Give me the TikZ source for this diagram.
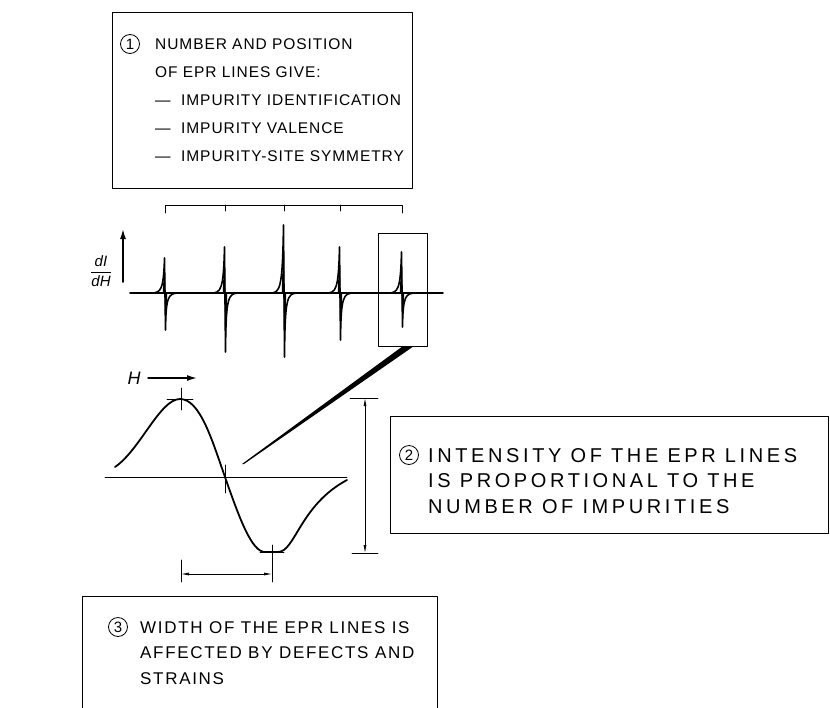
\documentclass[tikz,border=0pt]{standalone}
\usepackage{fontspec}
\setmainfont{Liberation Sans}
\usetikzlibrary{arrows.meta}

\begin{document}
\begin{tikzpicture}[x=1pt,y=-1pt,>=Latex,line cap=round,line join=round]

% Frame of the picture
\useasboundingbox (0,0) rectangle (830,707);

% Styles
\tikzset{
  infobox/.style={draw=black,line width=0.9pt},
  infotext/.style={anchor=north west,align=left,inner sep=0pt},
  numcirc/.style={circle,draw=black,line width=0.8pt,inner sep=0pt,minimum size=19pt,
    font=\fontsize{15}{15}\selectfont},
  axislabel/.style={font=\fontsize{17}{17}\selectfont\itshape,inner sep=1pt},
  trace/.style={line width=1.6pt},
  thin/.style={line width=0.6pt},
  dimline/.style={line width=0.7pt,{Latex[length=8pt,width=3pt]}-{Latex[length=8pt,width=3pt]}}
}

% Box 1
\draw[infobox] (112,12) rectangle (412,188);
\node[numcirc] (one) at (130,44) {1};
\node[infotext,font=\fontsize{15.5}{28}\selectfont\addfontfeatures{LetterSpace=6}] (txtone) at (155,38)
  {NUMBER AND POSITION\\OF EPR LINES GIVE:\\
  --- \ IMPURITY IDENTIFICATION\\--- \ IMPURITY VALENCE\\--- \ IMPURITY-SITE SYMMETRY};

% Bracket over the lines
\draw[thin] (165,213) -- (165,205) -- (402,205) -- (402,213);
\foreach \xx in {225,284,340} {
  \draw[thin] (\xx,205) -- (\xx,211);
}

% Axes of the spectrum
\draw[line width=1.5pt,-{Latex[length=10pt,width=6pt]}] (123,282) -- (123,229);
\node[axislabel,font=\fontsize{15}{15}\selectfont\itshape] (dIdH) at (101,271)
  {$\displaystyle\frac{\mbox{\itshape dI}}{\mbox{\itshape dH}}$};
\node[axislabel,font=\fontsize{18}{18}\selectfont\itshape] (hlabel) at (134,378) {H};
\draw[line width=1.5pt,-{Latex[length=10pt,width=6pt]}] (148,378) -- (197,378);

% Spectrum: baseline with five derivative lines
\draw[trace] (130,293) -- (443,293);
\foreach \xx/\up/\dn in {165/258/330,225/247/352,284/225/357,340/247/340,402/252/327} {
  \draw[trace] (\xx-14,293) .. controls (\xx-4,293) and (\xx-1.5,290) .. (\xx-0.5,\up)
    -- (\xx+0.5,\dn) .. controls (\xx+1,297) and (\xx+3,293) .. (\xx+14,293);
  \fill (\xx-2.2,292) -- (\xx-0.5,\up) -- (\xx+0.6,293) -- cycle;
  \fill (\xx-0.6,293) -- (\xx+0.5,\dn) -- (\xx+2.2,294) -- cycle;
}

% Zoom frame around last line and its wedge
\draw[thin] (378,233) rectangle (427,346);
\fill (403,346) -- (414,346) -- (244,464) -- (242,464) -- cycle;

% Enlarged line
\draw[thin] (105,477) -- (347,477);
\draw[line width=1.8pt] (115,467) .. controls (140,450) and (160,399) .. (180,399)
  .. controls (200,399) and (212,440) .. (225,477)
  .. controls (240,520) and (252,552) .. (265,552) -- (278,552)
  .. controls (295,552) and (300,505) .. (347,480);

% Tick marks on the enlarged line
\draw[thin] (167,399) -- (193,399) (181,388) -- (181,410);
\draw[thin] (225,465) -- (225,493);
\draw[thin] (260,552) -- (284,552) (272,545) -- (272,582);
\draw[thin] (181,560) -- (181,582);

% Width and height arrows
\draw[dimline] (181,574) -- (272,574);
\draw[thin] (350,398) -- (378,398) (352,553) -- (378,553);
\draw[dimline] (365,398) -- (365,553);

% Box 2
\draw[infobox] (390,416) rectangle (828,533);
\node[numcirc] (two) at (409,455) {2};
\node[infotext,font=\fontsize{20}{25.5}\selectfont\addfontfeatures{LetterSpace=18}] (txttwo) at (428,448)
  {INTENSITY OF THE EPR LINES\\IS PROPORTIONAL TO THE\\NUMBER OF IMPURITIES};

% Box 3 (open at the bottom)
\draw[infobox] (82,720) -- (82,596) -- (437,596) -- (437,720);
\node[numcirc] (three) at (118,627) {3};
\node[infotext,font=\fontsize{17}{25.5}\selectfont\addfontfeatures{LetterSpace=10}] (txtthree) at (140,621)
  {WIDTH OF THE EPR LINES IS\\AFFECTED BY DEFECTS AND\\STRAINS};

\end{tikzpicture}
\end{document}
